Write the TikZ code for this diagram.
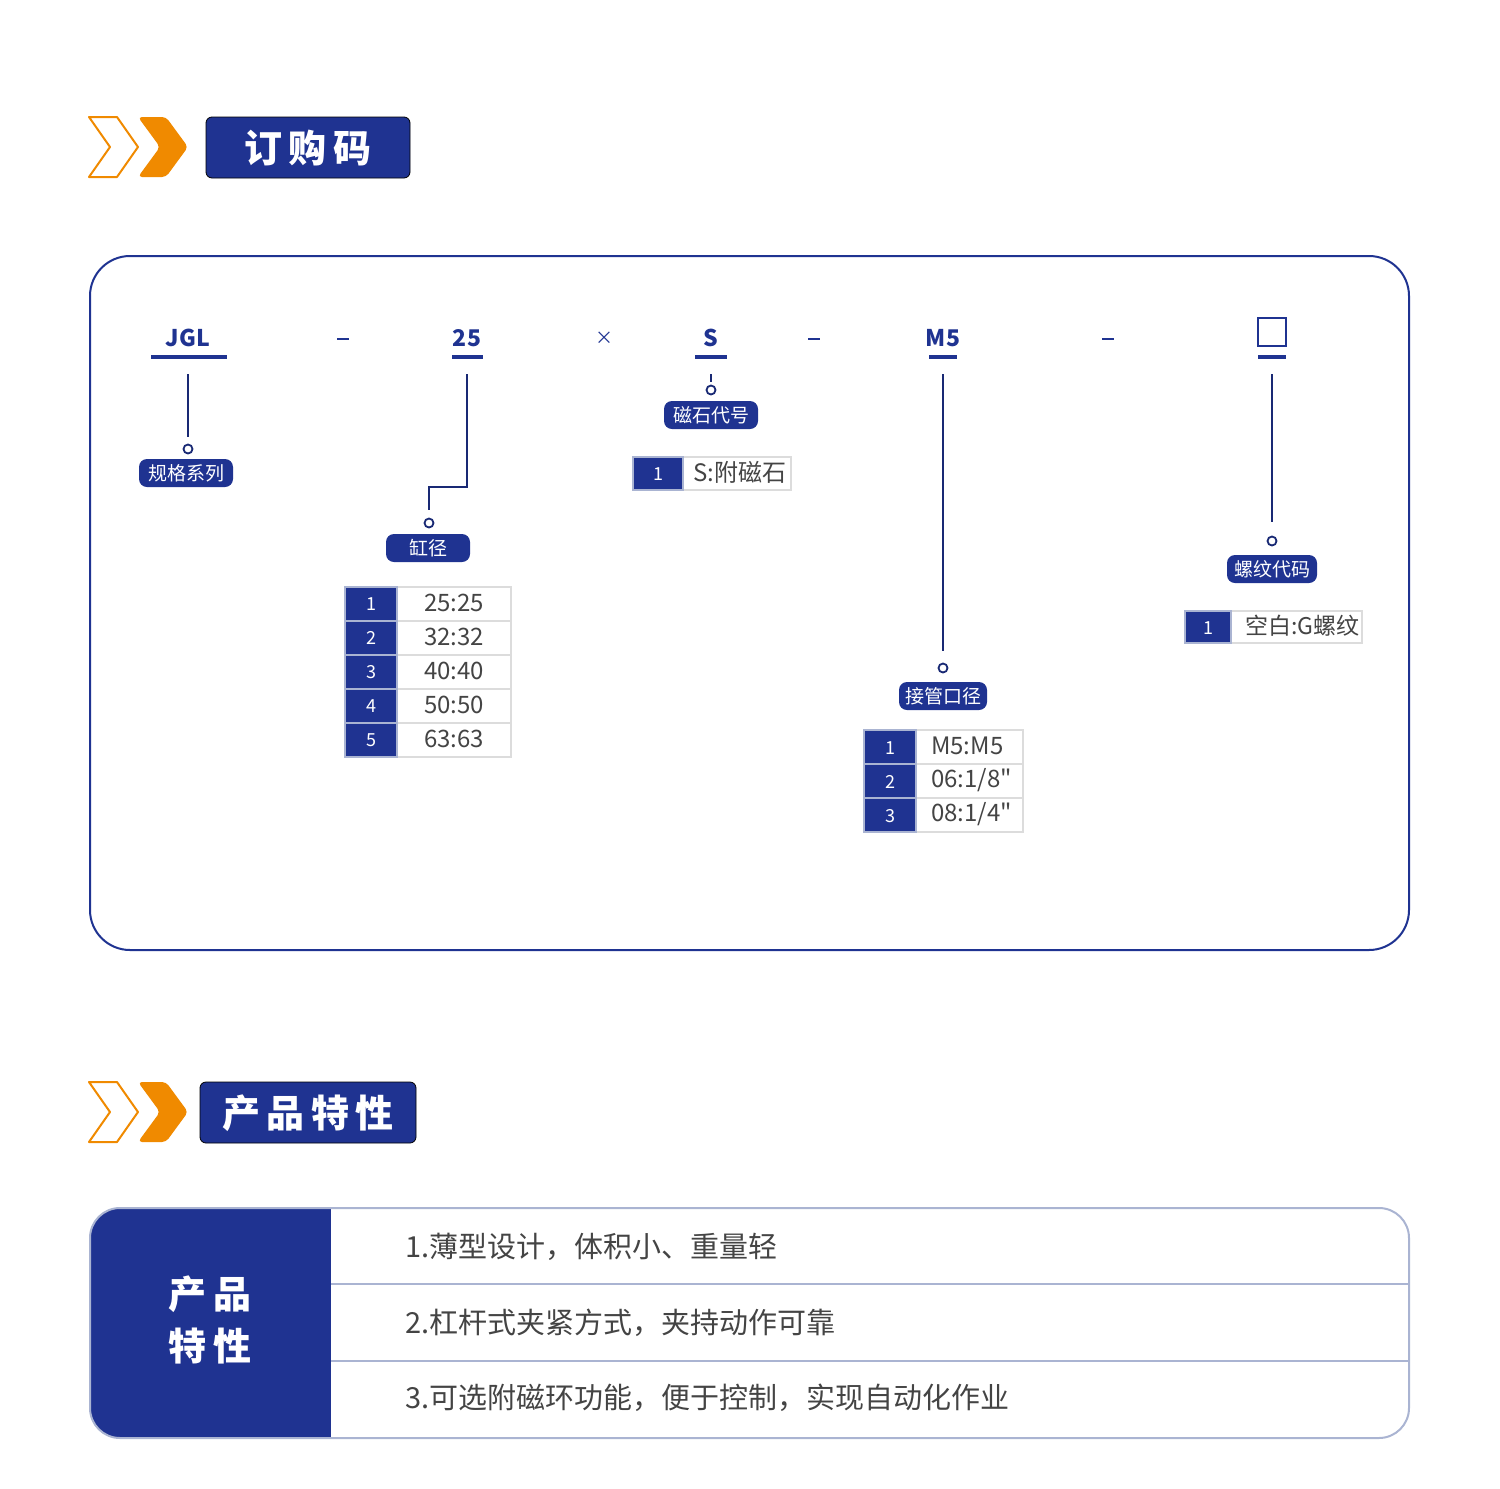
\documentclass[tikz,border=0pt]{standalone}
\usepackage{fontspec}
\setmainfont{Noto Sans CJK SC}
\newfontfamily\rawf{Noto Sans CJK SC}
\definecolor{navy}{HTML}{1F3391}
\definecolor{org}{HTML}{F08A00}
\definecolor{cellb}{HTML}{DCDCDC}
\definecolor{txt}{HTML}{444444}
\definecolor{fb}{HTML}{AAB4D2}
\begin{document}
\begin{tikzpicture}[x=0.5pt,y=-0.5pt,
 pill/.style={fill=navy,rounded corners=4pt,text=white,font=\fontsize{9.5}{10}\selectfont,minimum height=14pt,inner sep=0pt},
 code/.style={text=navy,font=\bfseries\fontsize{11.5}{12}\selectfont},
 sep/.style={text=navy,font=\fontsize{9}{10}\selectfont},
 conn/.style={navy!80!black,line width=1pt},
 dotc/.style={circle,draw=navy!80!black,line width=0.9pt,minimum size=4.5pt,inner sep=0pt},
 numc/.style={fill=navy,draw=fb,line width=0.6pt},
 valc/.style={fill=white,draw=cellb,line width=0.6pt},
 ntext/.style={text=white,font=\fontsize{9}{10}\selectfont},
 vtext/.style={text=txt,font=\fontsize{12}{13}\selectfont},
 hdr/.style={fill=navy,rounded corners=3pt},
 feat/.style={text=txt,font=\fontsize{14.5}{16}\selectfont,anchor=west}]
\useasboundingbox (0,0) rectangle (1500,1489);
% headers
\foreach \y/\x/\w/\t/\n in {117/206/410/订\,购\,码/ha,1082/200/416/产\,品\,特\,性/hb}{
 \draw[org,line width=1pt,line join=round] (89,\y) -- (117,\y) -- (138,\y+30) -- (117,\y+60) -- (89,\y+60) -- (110,\y+30) -- cycle;
 \fill[org,rounded corners=2pt] (138,\y) -- (166,\y) -- (188,\y+30) -- (166,\y+60) -- (138,\y+60) -- (160,\y+30) -- cycle;
 \draw[hdr] (\x,\y) rectangle (\w,\y+61);
 \node[text=white,font=\bfseries\fontsize{19}{20}\selectfont] (\n) at ({(\x+\w)/2},\y+31) {\t};
}
% main box
\draw[navy,line width=1pt,rounded corners=20pt] (90,256) rectangle (1409,950);
% codes
\node[code] (jgl) at (188,338) {JGL};
\node[code] (c25) at (467,338) {25};
\node[code] (cs) at (711,338) {S};
\node[code] (cm5) at (943,338) {M5};
\draw[navy,line width=1.2pt] (1258,318) rectangle (1286,346);
\node[sep] (d1) at (343,339) {\rule{6pt}{0.6pt}};
\node[sep] (x1) at (604,338) {×};
\node[sep] (d2) at (814,339) {\rule{6pt}{0.6pt}};
\node[sep] (d3) at (1108,339) {\rule{6pt}{0.6pt}};
\foreach \a/\b in {151/227,452/483,695/727,929/957,1258/1286}
 \draw[navy,line width=2pt] (\a,357) -- (\b,357);
% connectors
\node[dotc] (o1) at (188,449) {};
\node[dotc] (o2) at (429,523) {};
\node[dotc] (o3) at (711,390) {};
\node[dotc] (o4) at (943,668) {};
\node[dotc] (o5) at (1272,541) {};
\coordinate (t1) at (188,374); \coordinate (t2) at (467,374);
\coordinate (t3) at (711,374); \coordinate (t4) at (943,374); \coordinate (t5) at (1272,374);
\draw[conn] (t1) -- (188,437);
\draw[conn] (t2) -- (467,487) -- (429,487) -- (429,510);
\draw[conn] (t3) -- (711,382);
\draw[conn] (t4) -- (943,651);
\draw[conn] (t5) -- (1272,522);
\node[pill,minimum width=47pt] (p1) at (186,473) {规格系列};
\node[pill,minimum width=42pt] (p2) at (428,548) {缸径};
\node[pill,minimum width=47pt] (p3) at (711,415) {磁石代号};
\node[pill,minimum width=44pt] (p4) at (943,696) {接管口径};
\node[pill,minimum width=45pt] (p5) at (1272,569) {螺纹代码};
% tables
\foreach \i/\v in {1/25:25,2/32:32,3/40:40,4/50:50,5/63:63}{
 \draw[valc] (397,587+34*\i-34) rectangle (511,587+34*\i);
 \draw[numc] (345,587+34*\i-34) rectangle (397,587+34*\i);
 \node[ntext] (ta\i) at (371,587+34*\i-17) {\i};
 \node[vtext] (va\i) at (454,587+34*\i-18) {\v};
}
\draw[valc] (683,457) rectangle (791,490);
\draw[numc] (633,457) rectangle (683,490);
\node[ntext] (tb1) at (658,474) {1};
\node[vtext,anchor=west] (vb1) at (686,472) {S:附磁石};
\foreach \i/\v in {1/{M5:M5},2/{06:1/8{\rawf"}},3/{08:1/4{\rawf"}}}{
 \draw[valc] (916,730+34*\i-34) rectangle (1023,730+34*\i);
 \draw[numc] (864,730+34*\i-34) rectangle (916,730+34*\i);
 \node[ntext] (tc\i) at (890,730+34*\i-16) {\i};
 \node[vtext,anchor=west] (vc\i) at (924,730+34*\i-18) {\v};
}
\draw[valc] (1231,611) rectangle (1362,643);
\draw[numc] (1185,611) rectangle (1231,643);
\node[ntext] (td1) at (1208,628) {1};
\node[vtext,anchor=west,font=\fontsize{11.5}{13}\selectfont] (vd1) at (1238,626) {空白:G螺纹};
% features
\begin{scope}
\clip[rounded corners=15pt] (90,1208) rectangle (1409,1438);
\fill[navy] (90,1208) rectangle (331,1438);
\end{scope}
\draw[fb,line width=1pt] (331,1284) -- (1409,1284) (331,1361) -- (1409,1361);
\draw[fb,line width=1pt,rounded corners=15pt] (90,1208) rectangle (1409,1438);
\node[text=white,font=\bfseries\fontsize{19}{26}\selectfont,align=center] (fl) at (210,1320) {产\,品\\特\,性};
\node[feat] (f1) at (398,1247) {1.薄型设计，体积小、重量轻};
\node[feat] (f2) at (398,1323) {2.杠杆式夹紧方式，夹持动作可靠};
\node[feat] (f3) at (398,1398) {3.可选附磁环功能，便于控制，实现自动化作业};
\end{tikzpicture}
\end{document}
